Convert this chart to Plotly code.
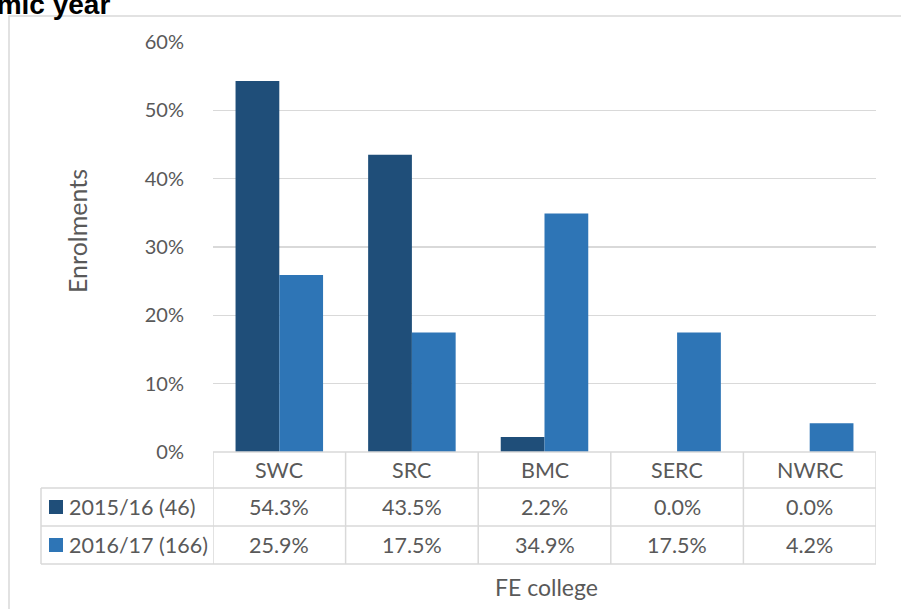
import plotly.graph_objects as go

categories = ["SWC", "SRC", "BMC", "SERC", "NWRC"]
series_names = ["2015/16 (46)", "2016/17 (166)"]
values_1516 = [0.543, 0.435, 0.022, 0.0, 0.0]
values_1617 = [0.259, 0.175, 0.349, 0.175, 0.042]
series_values = [values_1516, values_1617]
colors = ["#1F4E79", "#2E75B6"]
y_ticks = [0, 0.1, 0.2, 0.3, 0.4, 0.5, 0.6]

W, H = 901, 609
def px(x):
    return x / W
def py(y):
    return 1 - y / H

FONT = "Lato"
TXT = "#595959"
LINE = "#D9D9D9"
FS_TICK = 20
FS_TAB = 21.5

fig = go.Figure()
for name, vals, col in zip(series_names, series_values, colors):
    fig.add_trace(go.Bar(x=categories, y=vals, name=name, marker=dict(color=col, line=dict(width=0)),
                         showlegend=False, hoverinfo="skip"))

x0p, x1p = 213, 876
y_top, y_bot = 42, 452
fig.update_layout(
    width=W, height=H, margin=dict(l=0, r=0, t=0, b=0, pad=0, autoexpand=False),
    paper_bgcolor="white", plot_bgcolor="white", showlegend=False,
    barmode="group", bargap=0.34, bargroupgap=0,
    xaxis=dict(domain=[px(x0p), px(x1p)], showticklabels=False, showgrid=False,
               zeroline=False, showline=False, range=[-0.5, len(categories) - 0.5],
               automargin=False),
    yaxis=dict(domain=[py(y_bot), py(y_top)], range=[0, 0.6], tickvals=y_ticks,
               tickformat=".0%", gridcolor=LINE, gridwidth=1.5, zeroline=False,
               showline=False, ticks="", ticklabelstandoff=28, automargin=False,
               tickfont=dict(family=FONT, size=FS_TICK, color=TXT)),
    font=dict(family=FONT, color=TXT),
)

shapes = []
# outer chart border
shapes.append(dict(type="rect", xref="paper", yref="paper", x0=px(9), x1=px(W + 20),
                   y0=py(H + 20), y1=py(16), line=dict(color=LINE, width=1.5)))
# table lines
row_lines = [452, 488, 526, 564]
n = len(categories)
for i, yy in enumerate(row_lines):
    if i == 0:
        shapes.append(dict(type="line", xref="x", yref="paper", x0=-0.5, x1=n - 0.5,
                           y0=py(yy), y1=py(yy), line=dict(color=LINE, width=1.5)))
    else:
        shapes.append(dict(type="line", xref="paper", yref="paper", x0=px(41), x1=px(x1p),
                           y0=py(yy), y1=py(yy), line=dict(color=LINE, width=1.5)))
for k in range(n + 1):
    shapes.append(dict(type="line", xref="x", yref="paper", x0=k - 0.5, x1=k - 0.5,
                       y0=py(452), y1=py(564), line=dict(color=LINE, width=1.5)))
shapes.append(dict(type="line", xref="paper", yref="paper", x0=px(41), x1=px(41),
                   y0=py(488), y1=py(564), line=dict(color=LINE, width=1.5)))

annotations = []
row_centers = [507, 545]
for c in categories:
    annotations.append(dict(x=c, y=py(470), xref="x", yref="paper", text=c, showarrow=False,
                            xanchor="center", yanchor="middle",
                            font=dict(family=FONT, size=FS_TAB, color=TXT)))
for name, vals, col, yc in zip(series_names, series_values, colors, row_centers):
    shapes.append(dict(type="rect", xref="paper", yref="paper", x0=px(49), x1=px(63),
                       y0=py(yc + 7), y1=py(yc - 7), fillcolor=col, line=dict(width=0)))
    annotations.append(dict(x=px(67), y=py(yc), xref="paper", yref="paper", text=name,
                            xanchor="left", yanchor="middle", showarrow=False,
                            font=dict(family=FONT, size=FS_TAB, color=TXT)))
    for c, v in zip(categories, vals):
        annotations.append(dict(x=c, y=py(yc), xref="x", yref="paper", text=f"{v*100:.1f}%",
                                xanchor="center", yanchor="middle",
                                showarrow=False, font=dict(family=FONT, size=FS_TAB, color=TXT)))

annotations.append(dict(x=px(546), y=py(587), xref="paper", yref="paper", text="FE college",
                        xanchor="center", yanchor="middle",
                        showarrow=False, font=dict(family=FONT, size=23, color=TXT)))
annotations.append(dict(x=px(77), y=py(231), xref="paper", yref="paper", text="Enrolments",
                        xanchor="center", yanchor="middle",
                        textangle=-90, showarrow=False, font=dict(family=FONT, size=25, color=TXT)))
annotations.append(dict(x=px(112), y=py(22), xref="paper", yref="paper",
                        text="<b>Enrolments by academic year</b>", xanchor="right", yanchor="bottom",
                        showarrow=False, font=dict(family="Liberation Sans", size=28, color="black")))

fig.update_layout(shapes=shapes, annotations=annotations)
fig.write_html("out.html", config={"displayModeBar": False, "staticPlot": True},
               post_script="document.body.style.margin='0';document.documentElement.style.overflow='hidden';")
